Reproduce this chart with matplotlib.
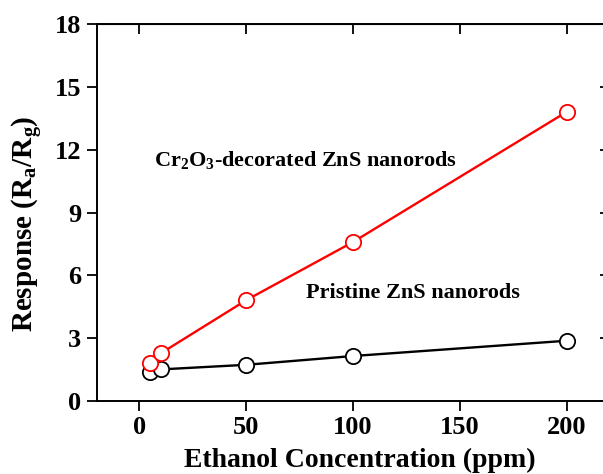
import matplotlib.pyplot as plt

# data
conc = [5, 10, 50, 100, 200]
resp_cr2o3 = [1.8, 2.28, 4.82, 7.6, 13.82]
resp_pristine = [1.4, 1.51, 1.73, 2.15, 2.88]

xticks = [0, 50, 100, 150, 200]
yticks = [0, 3, 6, 9, 12, 15, 18]

plt.rcParams['font.family'] = ['Liberation Serif', 'DejaVu Serif']
plt.rcParams['font.weight'] = 'bold'
plt.rcParams['mathtext.fontset'] = 'custom'
plt.rcParams['mathtext.rm'] = 'Liberation Serif:bold'
plt.rcParams['mathtext.it'] = 'Liberation Serif:bold'

fig = plt.figure(figsize=(6.03, 4.74), dpi=100)
ax = fig.add_axes([0.1604, 0.154, 0.8504, 0.7947])

ax.plot(conc, resp_cr2o3, color='red', lw=1.7, marker='o', ms=11,
        mfc='white', mec='red', mew=1.3, zorder=3)
ax.plot(conc, resp_pristine, color='black', lw=1.7, marker='o', ms=11,
        mfc='white', mec='black', mew=1.3, zorder=2)

ax.set_xlim(-20, 220)
ax.set_ylim(0, 18)
ax.set_xticks(xticks)
ax.set_yticks(yticks)
ax.tick_params(direction='out', length=7, width=1.3, labelsize=19, pad=4)
for s in ax.spines.values():
    s.set_linewidth(1.4)

top = ax.secondary_xaxis('top')
top.set_xticks(xticks)
top.tick_params(direction='in', length=7, width=1.3, labeltop=False)
right = ax.secondary_yaxis('right')
right.set_yticks(yticks)
right.tick_params(direction='in', length=7, width=1.3, labelright=False)

ax.set_xlabel('Ethanol Concentration (ppm)', fontsize=20, fontweight='bold')
ax.set_ylabel(r'Response (R$_\mathrm{a}$/R$_\mathrm{g}$)', fontsize=21, fontweight='bold')
ax.xaxis.set_label_coords(0.513, -0.125)
ax.yaxis.set_label_coords(-0.1, 0.47)

ax.text(7, 11.5, r'Cr$_\mathrm{2}$O$_\mathrm{3}$-decorated ZnS nanorods', fontsize=16,
        fontweight='bold', va='center')
ax.text(78, 5.15, 'Pristine ZnS nanorods', fontsize=16, fontweight='bold', va='center')

fig.savefig('out.png', dpi=100)
